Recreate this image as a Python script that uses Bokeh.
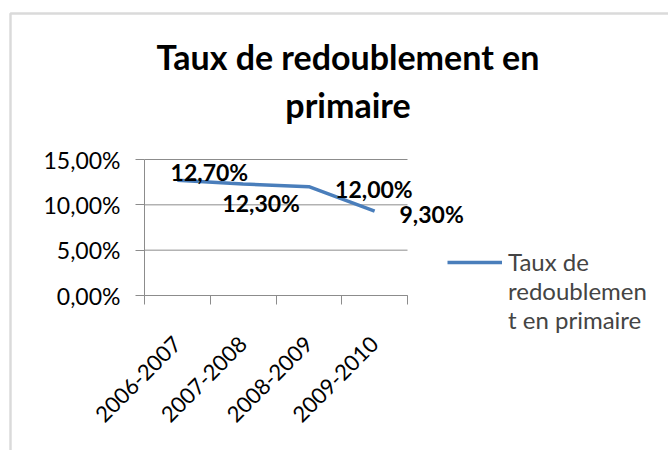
import math
from bokeh.plotting import figure
from bokeh.models import (ColumnDataSource, Range1d, FixedTicker, LabelSet, Label,
                          Legend, LegendItem, BoxAnnotation)
from bokeh.core.properties import value
from bokeh.embed import file_html
from bokeh.resources import INLINE

# ---- data ----
categories = ["2006-2007", "2007-2008", "2008-2009", "2009-2010"]
rates = [12.70, 12.30, 12.00, 9.30]
y_ticks = [0, 5, 10, 15]
y_tick_labels = ["0,00%", "5,00%", "10,00%", "15,00%"]
title_lines = ["Taux de redoublement en", "primaire"]
legend_lines = ["Taux de", "redoublemen", "t en primaire"]

# ---- layout (pixels) ----
W, H = 668, 450
PX_L, PX_R, PX_T, PX_B = 144, 407, 159, 295
label_dx = [32, 18, 65, 57]
label_dy = [8, -19.5, -2, -2.5]
FONT = "Lato"
LINE_COLOR = "#4a7ebb"
GRID = "#8c8c8c"

n = len(categories)
ux = (PX_R - PX_L) / n
uy = (PX_B - PX_T) / y_ticks[-1]
x0 = -0.5 - PX_L / ux
y0 = -(H - PX_B) / uy

xs = list(range(n))
source = ColumnDataSource(dict(
    x=xs, y=rates,
    lbl=[("%.2f%%" % v).replace(".", ",") for v in rates],
    dx=label_dx, dy=label_dy,
))

p = figure(width=W, height=H, output_backend="svg", toolbar_location=None,
           x_range=Range1d(x0, x0 + W / ux), y_range=Range1d(y0, y0 + H / uy),
           min_border=0)
p.outline_line_color = None
p.background_fill_color = "white"
p.border_fill_color = "white"
p.xgrid.visible = False
p.ygrid.visible = False

# gridlines across the category span
p.segment(x0=[-0.5] * len(y_ticks), x1=[n - 0.5] * len(y_ticks), y0=y_ticks, y1=y_ticks,
          line_color=GRID, line_width=1)

r = p.line("x", "y", source=source, line_color=LINE_COLOR, line_width=3.5)
blank = p.line(x=[], y=[], line_alpha=0)

# x axis
xa = p.xaxis[0]
xa.fixed_location = 0
xa.bounds = (-0.5, n - 0.5)
xa.ticker = FixedTicker(ticks=xs, minor_ticks=[i - 0.5 for i in range(n + 1)])
xa.major_label_overrides = {i: c for i, c in enumerate(categories)}
xa.major_tick_line_color = None
xa.major_tick_out = 0
xa.major_tick_in = 0
xa.minor_tick_out = 9
xa.minor_tick_in = 0
xa.minor_tick_line_color = GRID
xa.axis_line_color = GRID
xa.major_label_orientation = math.pi / 4
xa.major_label_text_font = FONT
xa.major_label_text_font_size = "22px"
xa.major_label_text_color = "black"
xa.major_label_standoff = 36

# y axis
ya = p.yaxis[0]
ya.fixed_location = -0.5
ya.bounds = (y_ticks[0], y_ticks[-1])
ya.ticker = FixedTicker(ticks=y_ticks, minor_ticks=[])
ya.major_label_overrides = {t: l for t, l in zip(y_ticks, y_tick_labels)}
ya.major_tick_out = 9
ya.major_tick_in = 0
ya.major_tick_line_color = GRID
ya.axis_line_color = GRID
ya.major_label_text_font = FONT
ya.major_label_text_font_size = "23px"
ya.major_label_text_color = "black"
ya.major_label_standoff = 15

labels = LabelSet(x="x", y="y", text="lbl", source=source, x_offset="dx", y_offset="dy",
                  text_font=value(FONT), text_font_size="23px", text_font_style="bold",
                  text_align="center", text_baseline="middle", text_color="black")
p.add_layout(labels)

# title
for txt, yy in zip(title_lines, [H - 56, H - 104]):
    p.add_layout(Label(x=347.5, y=yy, x_units="screen", y_units="screen", text=txt,
                       text_font=FONT, text_font_size="34px", text_font_style="bold",
                       text_align="center", text_baseline="alphabetic", text_color="black"))

# legend
items = [LegendItem(label=legend_lines[0], renderers=[r])]
items += [LegendItem(label=t, renderers=[blank]) for t in legend_lines[1:]]
legend = Legend(items=items, location=(447, H - 334),
                label_text_font=FONT, label_text_font_size="24px", label_standoff=6,
                glyph_width=55, glyph_height=28, label_height=28, spacing=0,
                padding=0, margin=0, border_line_color=None, background_fill_alpha=0)
p.add_layout(legend)

# outer chart border
p.add_layout(BoxAnnotation(left=10, right=W + 50, top=H - 13, bottom=-50,
                           left_units="screen", right_units="screen",
                           top_units="screen", bottom_units="screen",
                           fill_alpha=0, line_color="#858585", line_width=2.5))

open("out.html", "w").write(file_html(p, INLINE))
